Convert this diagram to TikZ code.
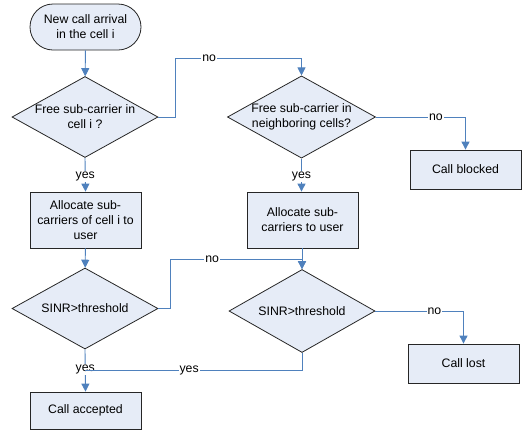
\documentclass[tikz,border=0pt]{standalone}
\usepackage{fontspec}
\setmainfont{Liberation Sans}
\usetikzlibrary{shapes.geometric,arrows.meta}
\definecolor{lineblue}{RGB}{79,129,189}
\definecolor{boxfill}{RGB}{230,236,247}
\tikzset{
  base/.style={draw=black!85, fill=boxfill, line width=0.8pt, align=center, inner sep=0pt,
     font=\fontsize{12.3}{15}\selectfont},
  procbox/.style={base, rectangle, minimum width=111pt},
  term/.style={base, rectangle, rounded corners=23pt, minimum width=111pt, minimum height=46pt},
  decision/.style={base, diamond, aspect=1.8},
  conn/.style={draw=lineblue, line width=0.9pt, -{Triangle[width=8pt,length=8pt]}},
  lbl/.style={fill=white, inner sep=1pt, font=\fontsize{12.3}{14}\selectfont}
}
\begin{document}
\begin{tikzpicture}[x=1pt,y=-1pt]
\useasboundingbox (0,0) rectangle (524,432);
\node[term] (start) at (85.5,27) {New call arrival\\in the cell i};
\node[decision, minimum width=146pt, minimum height=81pt] (d1) at (85,117) {Free sub-carrier in\\cell i ?};
\node[decision, minimum width=137pt, minimum height=81pt] (d3) at (301.5,117) {Free sub-carrier in\\neighboring cells?};
\node[procbox, minimum height=56pt] (a1) at (85.5,220) {Allocate sub-\\carriers of cell i to\\user};
\node[procbox, minimum height=56pt] (a2) at (302.5,220) {Allocate sub-\\carriers to user};
\node[decision, minimum width=146pt, minimum height=81pt] (d2) at (85,308.5) {SINR>threshold};
\node[decision, minimum width=146pt, minimum height=83pt] (d4) at (302,311) {SINR>threshold};
\node[procbox, minimum height=37pt] (acc) at (85.5,410.5) {Call accepted};
\node[procbox, minimum height=39pt] (blk) at (465.5,169.5) {Call blocked};
\node[procbox, minimum height=39pt] (lost) at (463.5,363.5) {Call lost};

\coordinate (c1) at (175,117);
\coordinate (c2) at (175,58);
\coordinate (c3) at (301.5,58);
\coordinate (c4) at (465.5,117);
\coordinate (c5) at (170,308.5);
\coordinate (c6) at (170,259);
\coordinate (c7) at (302,259);
\coordinate (c8) at (463.5,311);
\coordinate (c9) at (302,370);
\coordinate (c10) at (85,370);

\draw[conn] (start) -- (d1);
\draw[conn] (d1.south) -- node[lbl, pos=0.55]{yes} (a1.north);
\draw[conn] (d1.east) -- (c1) -- (c2) -- node[lbl, pos=0.27]{no} (c3) -- (d3.north);
\draw[conn] (d3.south) -- node[lbl, pos=0.55]{yes} (d3.south |- a2.north);
\draw[conn] (d3.east) -- node[lbl, pos=0.67]{no} (c4) -- (blk.north);
\draw[conn] (a1) -- (d2);
\draw[conn] (a2.south -| d4.north) -- (d4.north);
\draw[conn] (d2.east) -- (c5) -- (c6) -- node[lbl, pos=0.32]{no} (c7) -- (d4.north);
\draw[conn] (d4.east) -- node[lbl, pos=0.67]{no} (c8) -- (lost.north);
\draw[conn] (d2.south) -- node[lbl, pos=0.48]{yes} (acc.north);
\draw[draw=lineblue, line width=0.9pt] (d4.south) -- (c9) -- node[lbl, pos=0.52]{yes} (c10);
\end{tikzpicture}
\end{document}
